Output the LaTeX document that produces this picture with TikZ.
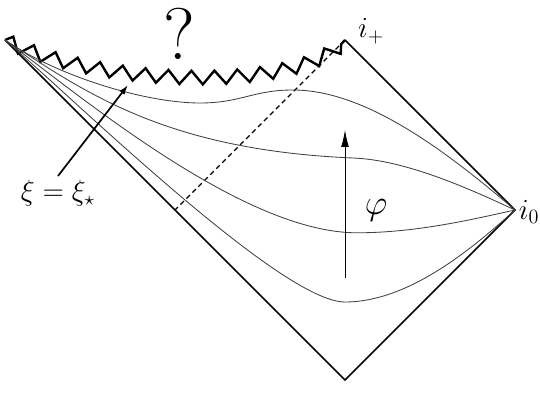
\documentclass[tikz,border=0pt]{standalone}
\usetikzlibrary{arrows.meta,decorations.pathmorphing,calc}
\begin{document}
\begin{tikzpicture}[>=latex,
	edge/.style={line width=1.2pt},
	slice/.style={line width=0.6pt,black!75},
	sing/.style={line width=1.7pt,decorate,decoration={zigzag,segment length=0.58cm,amplitude=0.17cm}},
	horizon/.style={line width=0.8pt,dash pattern=on 3.5pt off 2.5pt},
	lbl/.style={font=\huge,inner sep=1pt}]
	\useasboundingbox (-8.625,-0.625) rectangle (4.875,9.5);
	\coordinate (L) at (-8.5,8.5);
	\coordinate (T) at (0,8.5);
	\coordinate (I0) at (4.25,4.25);
	\coordinate (B) at (0,0);
	\coordinate (H) at ($(L)!0.5!(B)$);
	\draw[edge] (T)--(I0)--(B)--(L);
	\draw[sing] (L) .. controls (-6.375,7.375) and (-1.125,7.125) .. (T);
	\draw[horizon] (T)--(H);
	\draw[slice] (L) .. controls (-7.2,7.6) and (-5.0,6.925) .. (-3.625,6.925)
		.. controls (-2.6,6.925) and (-2.3,7.25) .. (-1.3,7.25)
		.. controls (0.5,7.25) and (2.5,5.75) .. (I0);
	\draw[slice] (L) .. controls (-6.5,7.2) and (-4.5,5.75) .. (0.2,5.55)
		.. controls (1.5,5.5) and (3.05,4.81) .. (I0);
	\draw[slice] (L) .. controls (-6.5,7.0) and (-2.5,3.68) .. (0.3,3.68)
		.. controls (1.8,3.68) and (3.25,4.03) .. (I0);
	\draw[slice] (L) .. controls (-6.8,7.05) and (-1.6,1.95) .. (0,1.95)
		.. controls (1.6,1.95) and (3.2,3.3) .. (I0);
	\coordinate (phibase) at (0,2.55);
	\coordinate (phitip) at (0,6.25);
	\draw[-{Latex[length=12pt,width=5.5pt]},line width=0.6pt] (phibase)--(phitip);
	\node[font=\fontsize{29}{32}\selectfont] (phi) at (0.775,4.25) {$\varphi$};
	\node[lbl] (iplus) at (0.65,8.72) {$i_+$};
	\node[lbl] (izero) at (4.6,4.2) {$i_0$};
	\node[font=\fontsize{52}{56}\selectfont] (qmark) at (-4.15,8.65) {?};
	\node[lbl,anchor=north,inner ysep=3pt] (xilabel) at (-7.175,5.1) {$\xi=\xi_\star$};
	\coordinate (xitip) at (-5.425,7.375);
	\draw[-{Latex[length=7pt,width=4.5pt]},line width=1.2pt] (xilabel.north)--(xitip);
\end{tikzpicture}
\end{document}
